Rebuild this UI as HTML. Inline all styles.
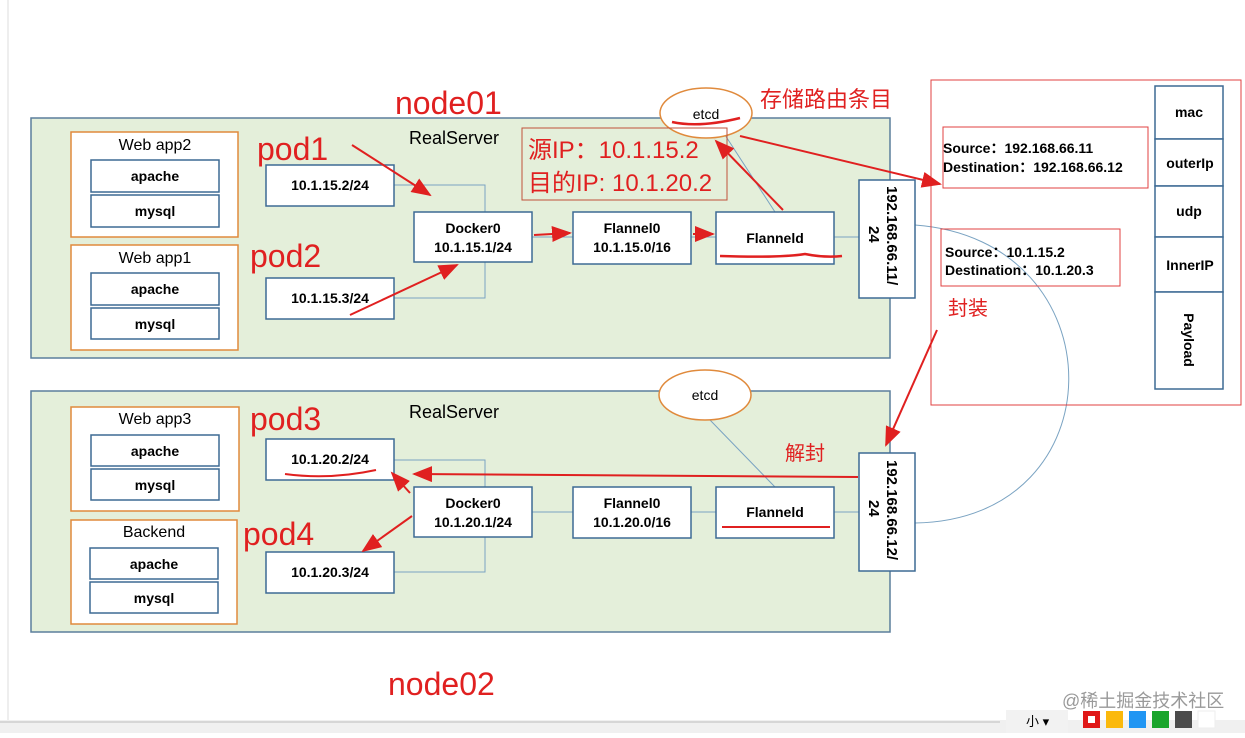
<!DOCTYPE html>
<html><head><meta charset="utf-8"><style>
body{margin:0;width:1245px;height:733px;background:#fff;overflow:hidden;font-family:"Liberation Sans","Noto Sans CJK SC",sans-serif}
svg text{font-family:"Liberation Sans","Noto Sans CJK SC",sans-serif}
</style></head><body>
<svg width="1245" height="733" viewBox="0 0 1245 733" xmlns="http://www.w3.org/2000/svg">
<defs><marker id="a" markerWidth="10" markerHeight="8" refX="9" refY="4" orient="auto"><path d="M0,0 L10,4 L0,8z" fill="#e02020"/></marker></defs>
<line x1="8" y1="0" x2="8" y2="720" stroke="#ddd"/>
<rect x="31" y="118" width="859" height="240" fill="#e4efda" stroke="#5b7f9c" stroke-width="1.5"/>
<rect x="31" y="391" width="859" height="241" fill="#e4efda" stroke="#5b7f9c" stroke-width="1.5"/>
<text x="409" y="144" font-size="18">RealServer</text>
<text x="409" y="418" font-size="18">RealServer</text>
<g stroke="#7aa3c2" fill="none" stroke-width="1">
<path d="M394 185 H485 V212 M394 298 H485 V262 M394 460 H485 V487 M394 572 H485 V537 M532 237 H573 M691 237 H716 M834 237 H859 M532 512 H573 M691 512 H716 M834 512 H859 M775 212 L725 135 M775 487 L710 420"/>
<path d="M915 225 C1120 240 1120 520 915 523"/>
</g>
<g fill="#fff" stroke="#e08a3c" stroke-width="1.5">
<rect x="71" y="132" width="167" height="105"/><rect x="71" y="245" width="167" height="105"/>
<rect x="71" y="407" width="168" height="104"/><rect x="71" y="520" width="166" height="104"/>
</g>
<g font-size="16" text-anchor="middle"><text x="155" y="150">Web app2</text><text x="155" y="263">Web app1</text><text x="155" y="424">Web app3</text><text x="154" y="537">Backend</text></g>
<g fill="#fff" stroke="#3d6a94" stroke-width="1.5">
<rect x="91" y="160" width="128" height="32"/><rect x="91" y="195" width="128" height="32"/>
<rect x="91" y="273" width="128" height="32"/><rect x="91" y="308" width="128" height="31"/>
<rect x="91" y="435" width="128" height="31"/><rect x="91" y="469" width="128" height="31"/>
<rect x="90" y="548" width="128" height="31"/><rect x="90" y="582" width="128" height="31"/>
<rect x="266" y="165" width="128" height="41"/><rect x="266" y="278" width="128" height="41"/>
<rect x="266" y="439" width="128" height="41"/><rect x="266" y="552" width="128" height="41"/>
<rect x="414" y="212" width="118" height="50"/><rect x="414" y="487" width="118" height="50"/>
<rect x="573" y="212" width="118" height="52"/><rect x="573" y="487" width="118" height="51"/>
<rect x="716" y="212" width="118" height="52"/><rect x="716" y="487" width="118" height="51"/>
<rect x="859" y="180" width="56" height="118"/><rect x="859" y="453" width="56" height="118"/>
</g>
<g font-size="14" font-weight="bold" text-anchor="middle">
<text x="155" y="181">apache</text><text x="155" y="216">mysql</text>
<text x="155" y="294">apache</text><text x="155" y="329">mysql</text>
<text x="155" y="456">apache</text><text x="155" y="490">mysql</text>
<text x="154" y="569">apache</text><text x="154" y="603">mysql</text>
<text x="330" y="190">10.1.15.2/24</text><text x="330" y="303">10.1.15.3/24</text>
<text x="330" y="464">10.1.20.2/24</text><text x="330" y="577">10.1.20.3/24</text>
<text x="473" y="233">Docker0</text><text x="473" y="252">10.1.15.1/24</text>
<text x="473" y="508">Docker0</text><text x="473" y="527">10.1.20.1/24</text>
<text x="632" y="233">Flannel0</text><text x="632" y="252">10.1.15.0/16</text>
<text x="632" y="508">Flannel0</text><text x="632" y="527">10.1.20.0/16</text>
<text x="775" y="243">Flanneld</text><text x="775" y="517">Flanneld</text>
</g>
<g font-size="15" font-weight="bold">
<text transform="translate(887,186) rotate(90)">192.168.66.11/</text>
<text transform="translate(869,226) rotate(90)">24</text>
<text transform="translate(887,460) rotate(90)">192.168.66.12/</text>
<text transform="translate(869,500) rotate(90)">24</text>
</g>
<ellipse cx="706" cy="113" rx="46" ry="25" fill="#fff" stroke="#e08a3c" stroke-width="1.5"/>
<ellipse cx="705" cy="395" rx="46" ry="25" fill="#fff" stroke="#e08a3c" stroke-width="1.5"/>
<text x="706" y="119" font-size="14" text-anchor="middle">etcd</text>
<text x="705" y="400" font-size="14" text-anchor="middle">etcd</text>
<rect x="522" y="128" width="205" height="72" fill="none" stroke="#c0503a" stroke-width="1"/>
<g fill="#e02020" font-size="24"><text x="528" y="158">源IP：10.1.15.2</text><text x="528" y="191">目的IP: 10.1.20.2</text></g>
<g fill="#e02020" font-size="32"><text x="395" y="114">node01</text><text x="388" y="695">node02</text>
<text x="257" y="160">pod1</text><text x="250" y="267">pod2</text><text x="250" y="430">pod3</text><text x="243" y="545">pod4</text></g>
<text x="760" y="107" fill="#e02020" font-size="22" font-family="Noto Serif CJK SC,serif">存储路由条目</text>
<text x="948" y="315" fill="#e02020" font-size="20">封装</text>
<text x="785" y="460" fill="#e02020" font-size="20">解封</text>
<rect x="931" y="80" width="310" height="325" fill="none" stroke="#e04040"/>
<rect x="943" y="127" width="205" height="61" fill="none" stroke="#e04040"/>
<rect x="941" y="229" width="179" height="57" fill="none" stroke="#e04040"/>
<g font-size="14" font-weight="bold"><text x="943" y="153">Source：192.168.66.11</text><text x="943" y="172">Destination：192.168.66.12</text>
<text x="945" y="257">Source：10.1.15.2</text><text x="945" y="275">Destination：10.1.20.3</text></g>
<g fill="#fff" stroke="#3d6a94" stroke-width="1.5"><rect x="1155" y="86" width="68" height="53"/><rect x="1155" y="139" width="68" height="47"/><rect x="1155" y="186" width="68" height="51"/><rect x="1155" y="237" width="68" height="55"/><rect x="1155" y="292" width="68" height="97"/></g>
<g font-size="14" font-weight="bold" text-anchor="middle"><text x="1189" y="117">mac</text><text x="1190" y="168">outerIp</text><text x="1189" y="216">udp</text><text x="1190" y="270">InnerIP</text>
<text transform="translate(1184,340) rotate(90)">Payload</text></g>
<g stroke="#e02020" stroke-width="2" fill="none">
<line x1="352" y1="145" x2="430" y2="195" marker-end="url(#a)"/>
<line x1="350" y1="315" x2="457" y2="265" marker-end="url(#a)"/>
<line x1="534" y1="235" x2="570" y2="233" marker-end="url(#a)"/>
<line x1="693" y1="234" x2="713" y2="234" marker-end="url(#a)"/>
<line x1="783" y1="210" x2="716" y2="141" marker-end="url(#a)"/>
<line x1="740" y1="136" x2="940" y2="184" marker-end="url(#a)"/>
<line x1="937" y1="330" x2="886" y2="445" marker-end="url(#a)"/>
<line x1="858" y1="477" x2="414" y2="474" marker-end="url(#a)"/>
<line x1="410" y1="493" x2="392" y2="473" marker-end="url(#a)"/>
<line x1="412" y1="516" x2="363" y2="551" marker-end="url(#a)"/>
<path d="M672 122 Q700 128 740 118" stroke-width="2.5"/>
<path d="M720 256 Q780 258 805 254 Q825 258 842 256" stroke-width="2.5"/>
<path d="M722 527 H830"/>
<path d="M285 474 Q330 480 376 470"/>
</g>
<rect x="0" y="720" width="1245" height="13" fill="#f0f0f0"/>
<line x1="0" y1="722" x2="1000" y2="722" stroke="#bbb"/>
<rect x="1006" y="710" width="62" height="23" fill="#f2f2f2"/>
<text x="1026" y="726" font-size="13">小 ▾</text>
<text x="1062" y="707" font-size="18" fill="#999">@稀土掘金技术社区</text>
<rect x="1083" y="711" width="17" height="17" fill="#e01818"/><rect x="1088" y="716" width="7" height="7" fill="#fff"/>
<rect x="1106" y="711" width="17" height="17" fill="#fbb90c"/>
<rect x="1129" y="711" width="17" height="17" fill="#2196f3"/>
<rect x="1152" y="711" width="17" height="17" fill="#1aa52c"/>
<rect x="1175" y="711" width="17" height="17" fill="#4c4c4c"/>
<rect x="1198" y="711" width="17" height="17" fill="#fff" stroke="#eee"/>
</svg>
</body></html>
